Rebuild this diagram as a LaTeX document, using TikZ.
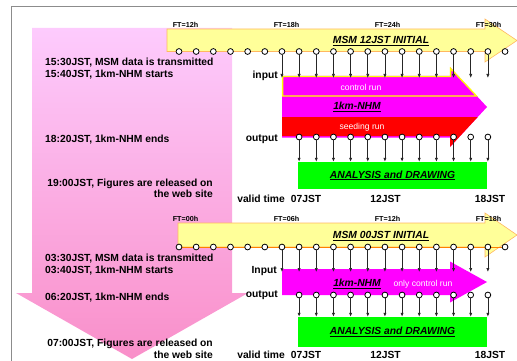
\documentclass[tikz,border=0pt]{standalone}
\usepackage{fontspec}
\setmainfont{Liberation Sans}
\usetikzlibrary{arrows.meta, positioning, calc}
\definecolor{PinkTop}{HTML}{FDCBFD}
\definecolor{PinkBottom}{HTML}{F98FC9}
\definecolor{MsmYellow}{HTML}{FFFF99}
\definecolor{MsmEdge}{HTML}{FFB860}
\definecolor{MsmLine}{HTML}{FF8000}
\definecolor{NhmMagenta}{HTML}{FF00FF}
\definecolor{SeedRed}{HTML}{FF0000}
\definecolor{CtrlYellow}{HTML}{FFFF00}
\definecolor{DrawGreen}{HTML}{00FF00}
\definecolor{FrameGray}{HTML}{8C8C8C}

\begin{document}
\begin{tikzpicture}[x=1pt, y=-1pt,
    dot/.style={circle, draw=black, fill=white, line width=0.8pt, inner sep=0pt, minimum size=5.8pt},
    feed/.style={-{Latex[length=4pt, width=3.2pt]}, line width=0.7pt, color=black!85},
    timetext/.style={anchor=base west, inner sep=0pt, font=\fontsize{10.3}{12}\selectfont\bfseries},
    webtext/.style={anchor=base east, inner sep=0pt, font=\fontsize{10.3}{12}\selectfont\bfseries},
    jsttext/.style={anchor=base, inner sep=0pt, font=\fontsize{10.3}{12}\selectfont\bfseries},
    fttext/.style={anchor=base, inner sep=0pt, font=\fontsize{7.2}{8}\selectfont\bfseries},
    titletext/.style={anchor=base, inner sep=0pt, font=\fontsize{10.3}{12}\selectfont\bfseries\itshape},
    runtext/.style={anchor=base, inner sep=0pt, text=white, font=\fontsize{8.6}{10}\selectfont},
    board/.style={fill=DrawGreen, inner sep=0pt, minimum width=189pt, minimum height=27pt,
        font=\fontsize{10.3}{12}\selectfont\bfseries\itshape}]
    \useasboundingbox (0,0) rectangle (517,361);
    \clip (0,0) rectangle (517,361);

    % Frame
    \draw[FrameGray, line width=1pt] (11,380) -- (11,7) -- (540,7);

    % Timeline arrow (pink)
    \shade[top color=PinkTop, bottom color=PinkBottom] (32,28) -- (232,28) -- (232,293) -- (248,293)
        -- (132,359) -- (16,293) -- (32,293) -- cycle;

    % MSM 12JST initial (yellow)
    \draw[fill=MsmYellow, draw=MsmEdge, line width=0.6pt] (167,29) -- (485,29) -- (485,19) -- (517,40.5)
        -- (485,62) -- (485,51.5) -- (167,51.5) -- cycle;
    \node[titletext] (msmA) at (381,43.3) {\underline{MSM 12JST INITIAL}};
    \node[fttext] (ftA0) at (185.5,27.3) {FT=12h};
    \node[fttext] (ftA1) at (286.5,27.3) {FT=18h};
    \node[fttext] (ftA2) at (387.5,27.3) {FT=24h};
    \node[fttext] (ftA3) at (488.5,27.3) {FT=30h};

    % 1km-NHM, control and seeding runs
    \fill[NhmMagenta] (282,76) -- (450,76) -- (450,67) -- (487,107) -- (450,147) -- (450,137.5)
        -- (282,137.5) -- cycle;
    \draw[CtrlYellow, line width=1.3pt] (282.6,76.6) -- (450.6,76.6) -- (450.6,68.5) -- (476.5,96)
        -- (282.6,96) -- cycle;
    \fill[SeedRed] (282,117) -- (477.7,117) -- (450,147) -- (450,136) -- (282,136) -- cycle;
    \node[runtext] (ctrlA) at (361,90.7) {control run};
    \node[titletext] (nhmA) at (357,110) {\underline{1km-NHM}};
    \node[runtext] (seedA) at (362,129.3) {seeding run};

    % Analysis (green)
    \node[board] (drawA) at (392.5,175.5) {\underline{ANALYSIS and DRAWING}};

    % Input and output hours
    \coordinate (inA) at (0,78);
    \foreach \i in {0,...,19} \node[dot] (a\i) at ({179+17.16*\i},51.5) {};
    \foreach \i in {6,...,18} \draw[feed] (a\i) -- (a\i |- inA);
    \foreach \i in {7,...,18} \node[dot] (b\i) at ({179+17.16*\i},137) {};
    \foreach \i in {7,...,18} \draw[feed] (b\i) -- (b\i |- drawA.north);

    \node[webtext] (inputA) at (278,78.3) {input};
    \node[webtext] (outputA) at (278,141.7) {output};
    \node[webtext] (validA) at (285,202) {valid time};
    \node[jsttext] (jstA0) at (306,202) {07JST};
    \node[jsttext] (jstA1) at (385.5,202) {12JST};
    \node[jsttext] (jstA2) at (490,202) {18JST};

    % Schedule, 12JST run
    \node[timetext] (sendA) at (45,65.3) {15:30JST, MSM data is transmitted};
    \node[timetext] (startA) at (45,77.3) {15:40JST, 1km-NHM starts};
    \node[timetext] (endA) at (45,142.7) {18:20JST, 1km-NHM ends};
    \node[webtext] (releaseA) at (213,186) {19:00JST, Figures are released on};
    \node[webtext] (siteA) at (213,197.7) {the web site};

    % MSM 00JST initial (yellow)
    \draw[fill=MsmYellow, draw=MsmEdge, line width=0.6pt] (178,223) -- (485,223) -- (485,213) -- (517,235)
        -- (485,257) -- (485,247) -- (178,247) -- cycle;
    \draw[MsmLine, line width=1pt] (178,247) -- (505,247);
    \node[titletext] (msmB) at (381,238.3) {\underline{MSM 00JST INITIAL}};
    \node[fttext] (ftB0) at (185.5,221.7) {FT=00h};
    \node[fttext] (ftB1) at (286.5,221.7) {FT=06h};
    \node[fttext] (ftB2) at (387.5,221.7) {FT=12h};
    \node[fttext] (ftB3) at (488.5,221.7) {FT=18h};

    % 1km-NHM, control run only
    \fill[NhmMagenta] (282,269) -- (450,269) -- (450,261.5) -- (487,282) -- (450,302.5) -- (450,295)
        -- (282,295) -- cycle;
    \node[titletext] (nhmB) at (357,286.7) {\underline{1km-NHM}};
    \node[runtext] (ctrlB) at (423,286) {only control run};

    % Analysis (green)
    \node[board, minimum height=30pt] (drawB) at (392.5,332) {\underline{ANALYSIS and DRAWING}};

    % Input and output hours
    \coordinate (inB) at (0,272);
    \foreach \i in {0,...,19} \node[dot] (c\i) at ({179+17.16*\i},247) {};
    \foreach \i in {6,...,18} \draw[feed] (c\i) -- (c\i |- inB);
    \foreach \i in {7,...,18} \node[dot] (d\i) at ({179+17.16*\i},295) {};
    \foreach \i in {7,...,18} \draw[feed] (d\i) -- (d\i |- drawB.north);

    \node[webtext] (inputB) at (277,273.3) {Input};
    \node[webtext] (outputB) at (278,297.7) {output};
    \node[webtext] (validB) at (285,358) {valid time};
    \node[jsttext] (jstB0) at (306,358) {07JST};
    \node[jsttext] (jstB1) at (385.5,358) {12JST};
    \node[jsttext] (jstB2) at (490,358) {18JST};

    % Schedule, 00JST run
    \node[timetext] (sendB) at (45,261) {03:30JST, MSM data is transmitted};
    \node[timetext] (startB) at (45,273.3) {03:40JST, 1km-NHM starts};
    \node[timetext] (endB) at (45,300.7) {06:20JST, 1km-NHM ends};
    \node[webtext] (releaseB) at (213,346.7) {07:00JST, Figures are released on};
    \node[webtext] (siteB) at (213,358.3) {the web site};
\end{tikzpicture}
\end{document}
